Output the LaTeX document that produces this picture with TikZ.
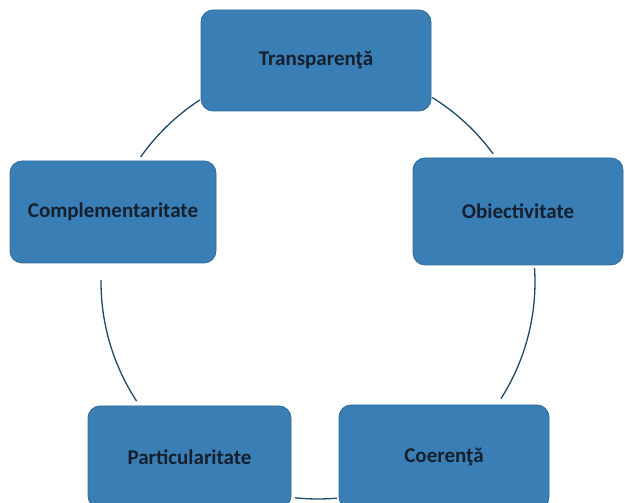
\documentclass[tikz,border=0pt]{standalone}
\usepackage{fontspec}
\setmainfont{Carlito}
\usetikzlibrary{calc}
\definecolor{boxfill}{HTML}{3A7EB6}
\definecolor{boxline}{HTML}{2F6C9C}
\definecolor{arcline}{HTML}{1F4A66}
\definecolor{txt}{HTML}{15202E}
\tikzset{
  box/.style={draw=boxline, line width=0.8pt, fill=boxfill, rounded corners=12pt,
    minimum width=#1, inner sep=0pt, font=\fontsize{21}{23}\selectfont\bfseries, text=txt},
  ring/.style={draw=arcline, line width=1.3pt}
}
\begin{document}
\begin{tikzpicture}[x=1pt,y=1pt]
\useasboundingbox (0,0) rectangle (625,503);
\coordinate (C) at (318,221);
\node[box=230pt, minimum height=101pt] (T) at (316,442.5) {Transparen\c{t}\u{a}};
\node[box=206pt, minimum height=102pt] (Cm) at (113,291) {Complementaritate};
\node[box=210pt, minimum height=107pt] (O) at (518,291.5) {Obiectivitate};
\node[box=203pt, minimum height=102pt] (P) at (189.5,46) {Particularitate};
\node[box=210pt, minimum height=104pt] (Co) at (444,46) {Coeren\c{t}\u{a}};
\coordinate (a1) at ($(C)+(123:217)$);
\coordinate (a2) at ($(C)+(58.2:217)$);
\coordinate (a3) at ($(C)+(3.7:217)$);
\coordinate (a4) at ($(C)+(263.9:217)$);
\coordinate (a5) at ($(C)+(179.5:217)$);
\draw[ring] (a1) arc[start angle=123, end angle=144.8, radius=217pt];
\draw[ring] (a2) arc[start angle=58.2, end angle=36.2, radius=217pt];
\draw[ring] (a3) arc[start angle=3.7, end angle=-32.5, radius=217pt];
\draw[ring] (a4) arc[start angle=263.9, end angle=275, radius=217pt];
\draw[ring] (a5) arc[start angle=179.5, end angle=213.3, radius=217pt];
\end{tikzpicture}
\end{document}
